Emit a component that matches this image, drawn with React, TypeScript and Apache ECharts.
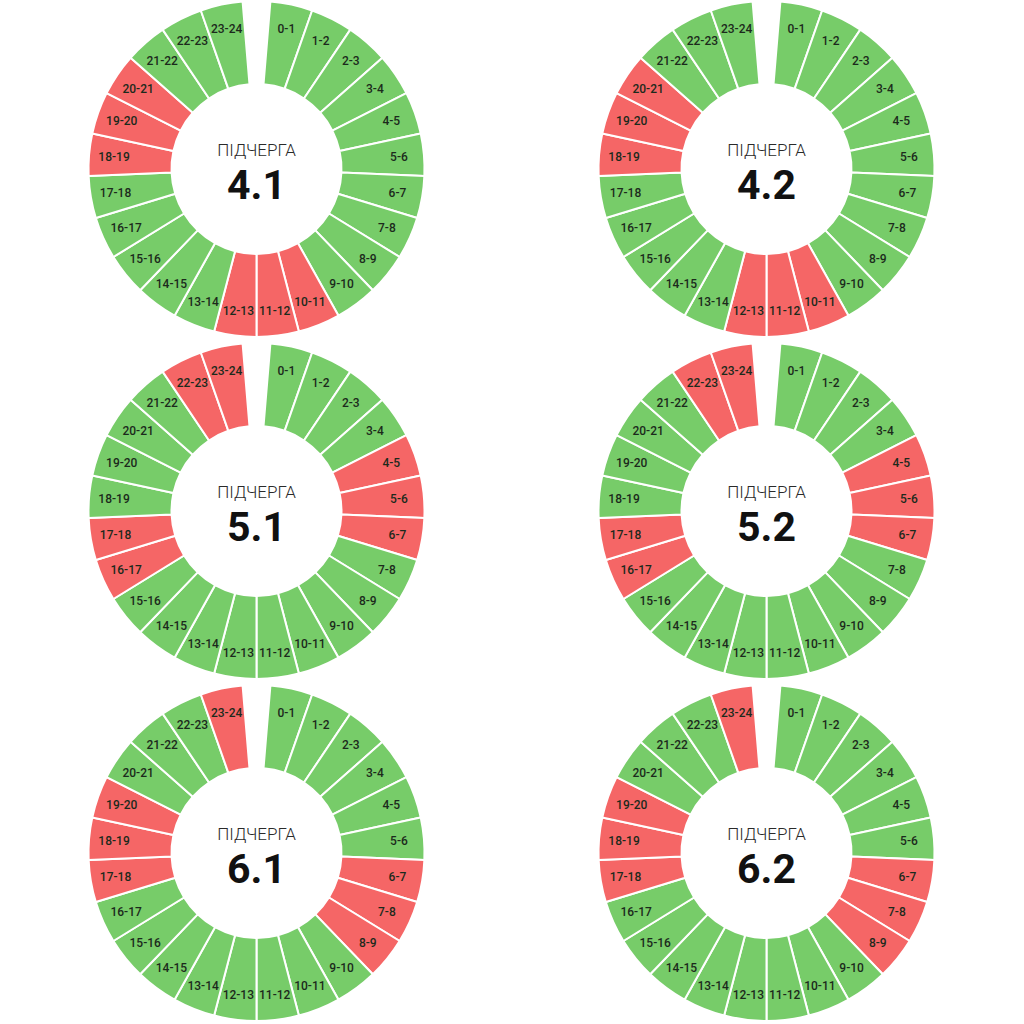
import React, { useEffect, useRef } from "react";
import * as echarts from "echarts";

const hours = [
  "0-1", "1-2", "2-3", "3-4", "4-5", "5-6", "6-7", "7-8", "8-9", "9-10", "10-11", "11-12",
  "12-13", "13-14", "14-15", "15-16", "16-17", "17-18", "18-19", "19-20", "20-21", "21-22", "22-23", "23-24",
];

const queueNames = ["4.1", "4.2", "5.1", "5.2", "6.1", "6.2"];

// 1 = outage (red), 0 = power on (green)
const outage41 = [0, 0, 0, 0, 0, 0, 0, 0, 0, 0, 1, 1, 1, 0, 0, 0, 0, 0, 1, 1, 1, 0, 0, 0];
const outage42 = [0, 0, 0, 0, 0, 0, 0, 0, 0, 0, 1, 1, 1, 0, 0, 0, 0, 0, 1, 1, 1, 0, 0, 0];
const outage51 = [0, 0, 0, 0, 1, 1, 1, 0, 0, 0, 0, 0, 0, 0, 0, 0, 1, 1, 0, 0, 0, 0, 1, 1];
const outage52 = [0, 0, 0, 0, 1, 1, 1, 0, 0, 0, 0, 0, 0, 0, 0, 0, 1, 1, 0, 0, 0, 0, 1, 1];
const outage61 = [0, 0, 0, 0, 0, 0, 1, 1, 1, 0, 0, 0, 0, 0, 0, 0, 0, 1, 1, 1, 0, 0, 0, 1];
const outage62 = [0, 0, 0, 0, 0, 0, 1, 1, 1, 0, 0, 0, 0, 0, 0, 0, 0, 1, 1, 1, 0, 0, 0, 1];

const outages = [outage41, outage42, outage51, outage52, outage61, outage62];

const GREEN = "#77CC69";
const RED = "#F56666";
const GAP = 0.65; // hidden share that opens the gap at the top
const GAP_DEG = (360 * GAP) / (24 + GAP);

const colX = [256.5, 766.5];
const rowY = [169, 511, 853];
const R_IN = 85;
const R_OUT = 168;

export default function App() {
  const ref = useRef<HTMLDivElement>(null);

  useEffect(() => {
    if (!ref.current) return;
    const chart = echarts.init(ref.current, undefined, { renderer: "svg" });
    const series: any[] = [];
    const graphic: any[] = [];
    queueNames.forEach((name, qi) => {
      const cx = colX[qi % 2];
      const cy = rowY[Math.floor(qi / 2)];
      const status = outages[qi];
      const ringData = hours.map((h, i) => ({
        name: h,
        value: 1,
        itemStyle: { color: status[i] ? RED : GREEN },
      }));
      const gapItem = {
        name: "gap",
        value: GAP,
        itemStyle: { color: "transparent", borderWidth: 0 },
        label: { show: false },
      };
      series.push({
        type: "pie",
        silent: true,
        center: [cx, cy],
        radius: [R_IN, R_OUT],
        startAngle: 90 - GAP_DEG / 2,
        clockwise: true,
        avoidLabelOverlap: false,
        label: { show: false },
        labelLine: { show: false },
        itemStyle: { borderColor: "#ffffff", borderWidth: 2 },
        data: [...ringData, gapItem],
      });
      series.push({
        type: "pie",
        silent: true,
        center: [cx, cy],
        radius: [112, R_OUT],
        startAngle: 90 - GAP_DEG / 2,
        clockwise: true,
        avoidLabelOverlap: false,
        itemStyle: { color: "transparent", borderWidth: 0 },
        label: {
          show: true,
          position: "inside",
          formatter: "{b}",
          color: "#1c2a1c",
          fontSize: 12,
          fontWeight: 500,
          fontFamily: "Roboto",
        },
        labelLine: { show: false },
        data: [
          ...hours.map((h) => ({ name: h, value: 1 })),
          { name: "gap", value: GAP, label: { show: false } },
        ],
      });
      graphic.push({
        type: "text",
        x: cx,
        y: cy - 19,
        silent: true,
        style: {
          text: "ПІДЧЕРГА",
          fill: "#2a2a2a",
          fontSize: 17,
          fontWeight: 300,
          fontFamily: "Roboto",
          textAlign: "center",
          textVerticalAlign: "middle",
        },
      });
      graphic.push({
        type: "text",
        x: cx,
        y: cy + 16,
        silent: true,
        style: {
          text: name,
          fill: "#111111",
          fontSize: 41,
          fontWeight: 700,
          fontFamily: "Roboto",
          textAlign: "center",
          textVerticalAlign: "middle",
        },
      });
    });
    chart.setOption({
      animation: false,
      backgroundColor: "#ffffff",
      series,
      graphic,
    });
    return () => chart.dispose();
  }, []);

  return (
    <div
      ref={ref}
      style={{ position: "fixed", left: 0, top: 0, width: 1024, height: 1024 }}
    />
  );
}
